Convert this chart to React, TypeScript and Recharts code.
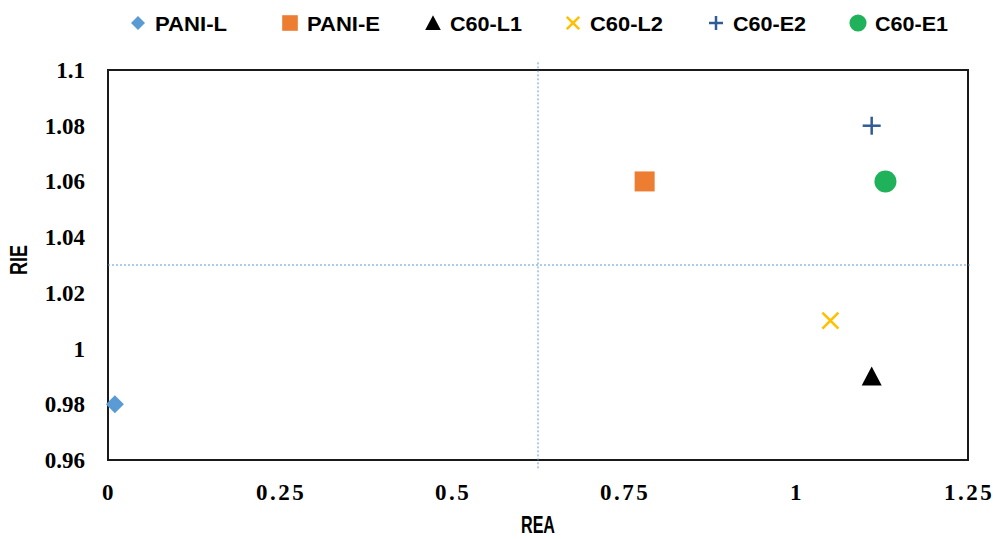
import React from "react";
import { ReferenceArea, ReferenceLine, Scatter, ScatterChart, XAxis, YAxis } from "recharts";

// one point per series: REA (x) and RIE (y)
const seriesNames = ["PANI-L", "PANI-E", "C60-L1", "C60-L2", "C60-E2", "C60-E1"];
const reaValues = [0.01, 0.78, 1.11, 1.05, 1.11, 1.13];
const rieValues = [0.98, 1.06, 0.99, 1.01, 1.08, 1.06];
const seriesColors = ["#5b9bd5", "#ed7d31", "#000000", "#ffc000", "#2f5c96", "#1fb25a"];
const seriesMarkers = ["diamond", "square", "triangle", "x", "plus", "circle"];

const xTicks = [0, 0.25, 0.5, 0.75, 1, 1.25];
const yTicks = [0.96, 0.98, 1, 1.02, 1.04, 1.06, 1.08, 1.1];
const reaSplit = 0.625;
const rieSplit = 1.03;

const W = 993;
const H = 539;
const legendX = [138, 290, 433, 573, 716, 858];
const legendTextW = [72, 73, 72, 73, 73, 73];

const serif = "Liberation Serif, DejaVu Serif, serif";
const sans = "Liberation Sans, Arial, sans-serif";

const Marker = ({ kind, cx, cy, color, s = 1 }: any) => {
    if (kind === "diamond") {
        const r = 9 * s;
        return <polygon points={`${cx},${cy - r} ${cx + r},${cy} ${cx},${cy + r} ${cx - r},${cy}`} fill={color} />;
    }
    if (kind === "square") {
        const r = 10 * s;
        return <rect x={cx - r} y={cy - r} width={2 * r} height={2 * r} fill={color} />;
    }
    if (kind === "triangle") {
        const r = 10 * s;
        return <polygon points={`${cx},${cy - r} ${cx + r},${cy + r * 0.9} ${cx - r},${cy + r * 0.9}`} fill={color} />;
    }
    if (kind === "x") {
        const r = 8 * s;
        return (
            <g stroke={color} strokeWidth={2.5}>
                <line x1={cx - r} y1={cy - r} x2={cx + r} y2={cy + r} />
                <line x1={cx - r} y1={cy + r} x2={cx + r} y2={cy - r} />
            </g>
        );
    }
    if (kind === "plus") {
        const r = 9 * s;
        return (
            <g stroke={color} strokeWidth={2.5}>
                <line x1={cx - r} y1={cy} x2={cx + r} y2={cy} />
                <line x1={cx} y1={cy - r} x2={cx} y2={cy + r} />
            </g>
        );
    }
    return <circle cx={cx} cy={cy} r={11 * s} fill={color} />;
};

const fmt = (v: number) => String(Number(v.toFixed(2)));

const XTick = ({ x, y, payload }: any) => (
    <text x={x + 1} y={y + 40} textAnchor="middle" style={{ fontFamily: serif, fontWeight: 700, fontSize: 23, letterSpacing: 2.5 }} fill="#000">
        {fmt(payload.value)}
    </text>
);

const YTick = ({ x, y, payload }: any) => (
    <text x={x - 23} y={y + 8} textAnchor="end" style={{ fontFamily: serif, fontWeight: 700, fontSize: 23 }} fill="#000">
        {fmt(payload.value)}
    </text>
);

const XTitle = ({ viewBox }: any) => (
    <text x={viewBox.x + viewBox.width / 2} y={533} textAnchor="middle" fontFamily={sans} fontWeight={700} fontSize={23} textLength={34} lengthAdjust="spacingAndGlyphs" fill="#000">
        REA
    </text>
);

const YTitle = () => {
    const cy = 260;
    return (
        <text x={27} y={cy} transform={`rotate(-90 27 ${cy})`} textAnchor="middle" fontFamily={sans} fontWeight={700} fontSize={23} textLength={30} lengthAdjust="spacingAndGlyphs" fill="#000">
            RIE
        </text>
    );
};

export default function App() {
    return (
        <div style={{ position: "absolute", left: 0, top: 0, width: W, height: H, background: "#fff" }}>
            <svg width={W} height={40} style={{ position: "absolute", left: 0, top: 0 }}>
                {seriesNames.map((name, i) => (
                    <g key={name}>
                        <Marker kind={seriesMarkers[i]} cx={legendX[i]} cy={23} color={seriesColors[i]} s={0.78} />
                        <text
                            x={legendX[i] + 17}
                            y={31}
                            fontFamily={sans}
                            fontWeight={700}
                            fontSize={21}
                            textLength={legendTextW[i]}
                            lengthAdjust="spacingAndGlyphs"
                            fill="#000"
                        >
                            {name}
                        </text>
                    </g>
                ))}
            </svg>
            <ScatterChart width={W} height={H} margin={{ top: 70, right: 25, bottom: 9, left: 8 }}>
                <XAxis
                    type="number"
                    dataKey="x"
                    domain={[0, 1.25]}
                    ticks={xTicks}
                    axisLine={false}
                    tickLine={false}
                    tickSize={0}
                    tickMargin={0}
                    height={70}
                    tick={<XTick />}
                    label={{ content: <XTitle /> }}
                />
                <YAxis
                    type="number"
                    dataKey="y"
                    domain={[0.96, 1.1]}
                    ticks={yTicks}
                    axisLine={false}
                    tickLine={false}
                    tickSize={0}
                    tickMargin={0}
                    width={100}
                    tick={<YTick />}
                    label={{ content: <YTitle /> }}
                />
                <ReferenceArea x1={0} x2={1.25} y1={0.96} y2={1.1} fill="none" stroke="#1a1a1a" strokeWidth={2} />
                <ReferenceLine
                    segment={[{ x: reaSplit, y: 0.957 }, { x: reaSplit, y: 1.103 }]}
                    ifOverflow="visible"
                    stroke="#5b9bd5"
                    strokeDasharray="2 2"
                />
                <ReferenceLine
                    segment={[{ x: 0, y: rieSplit }, { x: 1.253, y: rieSplit }]}
                    ifOverflow="visible"
                    stroke="#5b9bd5"
                    strokeDasharray="2 2"
                />
                {seriesNames.map((name, i) => (
                    <Scatter
                        key={name}
                        name={name}
                        data={[{ x: reaValues[i], y: rieValues[i] }]}
                        fill={seriesColors[i]}
                        isAnimationActive={false}
                        shape={(p: any) => <Marker kind={seriesMarkers[i]} cx={p.cx} cy={p.cy} color={seriesColors[i]} />}
                    />
                ))}
            </ScatterChart>
        </div>
    );
}
